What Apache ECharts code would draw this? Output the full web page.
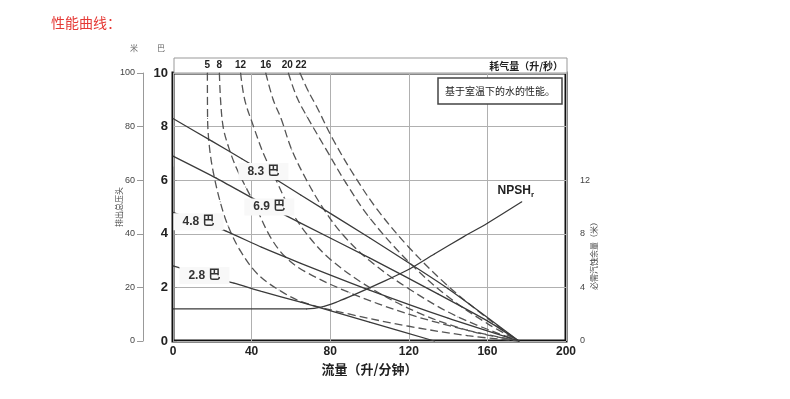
<!DOCTYPE html>
<html>
<head>
<meta charset="utf-8">
<script src="https://cdn.jsdelivr.net/npm/echarts@6/dist/echarts.min.js"></script>
<style>
  html, body { margin: 0; padding: 0; background: #fff; }
  #chart { width: 790px; height: 399px; }
</style>
</head>
<body>
<div id="chart"></div>
<script>
// flow in L/min, head in bar (NPSHr in metres)
const flowTicks = [0, 40, 80, 120, 160, 200];

const pressureNames = ['8.3 巴', '6.9 巴', '4.8 巴', '2.8 巴'];
const p83 = [[0, 8.3], [20, 7.45], [35, 6.8], [46, 6.32], [65, 5.45], [100, 3.85], [140, 1.95], [176, 0]];
const p69 = [[0, 6.9], [22, 6.08], [40, 5.35], [49, 5.0], [65, 4.4], [100, 3.1], [135, 1.75], [160, 0.75], [176, 0]];
const p48 = [[0, 4.8], [13, 4.45], [27, 4.1], [45, 3.5], [65, 2.9], [100, 1.9], [140, 0.85], [176, 0]];
const p28 = [[0, 2.8], [16, 2.44], [31, 2.16], [45, 1.85], [65, 1.45], [100, 0.7], [133, 0]];

const airNames = ['5', '8', '12', '16', '20', '22'];
const a5 = [[17.5, 10], [17.6, 8.3], [18.6, 7.2], [20.5, 6.3], [24, 5.2], [28, 4.3], [34, 3.4], [43, 2.5], [54, 1.9], [66, 1.45], [90, 1.0], [120, 0.55], [150, 0.2], [176, 0]];
const a8 = [[23.6, 10], [24.2, 9], [25.5, 8], [28, 7.3], [32, 6.5], [37, 5.75], [41.7, 5.08], [49.4, 3.9], [57, 3.15], [67, 2.6], [90, 1.8], [120, 1.0], [150, 0.4], [176, 0]];
const a12 = [[34.4, 10], [36.5, 9], [41, 8], [46, 7], [52.5, 6], [59, 5], [68, 4], [80, 3.05], [100, 2.0], [125, 1.05], [150, 0.4], [176, 0]];
const a16 = [[47.2, 10], [51, 9], [55, 8.3], [60.4, 7.14], [68, 6], [76, 5], [86, 4], [100, 3], [120, 1.95], [145, 0.9], [176, 0]];
const a20 = [[58.7, 10], [63, 9.1], [68, 8.4], [78, 7.14], [88, 5.9], [100, 4.6], [120, 2.95], [140, 1.65], [160, 0.65], [176, 0]];
const a22 = [[64.6, 10], [69, 9.3], [73, 8.76], [81.6, 7.5], [92, 6.2], [104, 4.9], [120, 3.5], [140, 2.05], [160, 0.85], [176, 0]];

const npshr = [[0, 2.4], [68, 2.4], [76, 2.55], [84, 2.95], [92, 3.44], [105, 4.3], [120.6, 5.4], [133, 6.5], [148, 7.8], [160, 8.8], [177.5, 10.4]];

const numFont = "'Liberation Sans Narrow', 'Liberation Sans', Arial, 'Noto Sans CJK SC', sans-serif";
const cjkFont = "'Noto Sans CJK SC', sans-serif";

// flow where each pressure label sits on its line
const labelFlow = [46, 49, 13, 16];
// small nudges so the crowded "20" and "22" labels don't touch
const airLabelNudge = [0, 0, 0, 0, -1, 1];

const chart = echarts.init(document.getElementById('chart'));

const pressureSeries = [p83, p69, p48, p28].map((pts, i) => ({
  type: 'line',
  name: pressureNames[i],
  xAxisIndex: 0,
  yAxisIndex: 0,
  z: 5,
  smooth: 0.2,
  symbol: 'circle',
  symbolSize: 1,
  itemStyle: { color: '#3a3a3a' },
  lineStyle: { color: '#3a3a3a', width: 1.3 },
  data: pts.map((p) => (p[0] === labelFlow[i] ? {
    value: p,
    label: {
      show: true,
      position: 'inside',
      formatter: pressureNames[i],
      fontFamily: numFont,
      fontSize: 12,
      fontWeight: 'bold',
      color: '#333',
      backgroundColor: '#f8f8f8',
      padding: [3, 9, 2, 9],
    },
  } : p)),
}));

const airSeries = [a5, a8, a12, a16, a20, a22].map((pts, i) => ({
  type: 'line',
  name: airNames[i],
  xAxisIndex: 0,
  yAxisIndex: 0,
  z: 3,
  smooth: 0.35,
  symbol: 'circle',
  symbolSize: 1,
  itemStyle: { color: '#555' },
  lineStyle: { color: '#555', width: 1.3, type: [8, 4] },
  data: pts.map((p, k) => (k === 0 ? {
    value: p,
    label: {
      show: true,
      position: 'top',
      distance: 2,
      offset: [airLabelNudge[i], 0],
      formatter: airNames[i],
      fontFamily: numFont,
      fontSize: 10,
      fontWeight: 'bold',
      color: '#222',
    },
  } : p)),
}));

const npshSeries = {
  type: 'line',
  name: 'NPSHr',
  xAxisIndex: 1,
  yAxisIndex: 2,
  z: 4,
  smooth: 0.3,
  symbol: 'circle',
  symbolSize: 1,
  itemStyle: { color: '#3a3a3a' },
  lineStyle: { color: '#3a3a3a', width: 1.3 },
  data: npshr.map((p, k) => (k === npshr.length - 1 ? {
    value: p,
    label: {
      show: true,
      position: 'top',
      distance: 3,
      offset: [-6, 0],
      formatter: '{a|NPSH}{s|r}',
      rich: {
        a: { fontFamily: numFont, fontSize: 12, fontWeight: 'bold', color: '#222' },
        s: { fontFamily: numFont, fontSize: 8, fontWeight: 'bold', color: '#222', padding: [7, 0, 0, 0] },
      },
    },
  } : p)),
};

const option = {
  animation: false,
  backgroundColor: '#fff',
  title: {
    text: '性能曲线：',
    left: 46,
    top: 11,
    textStyle: { color: '#e53935', fontSize: 14, fontWeight: 'normal', fontFamily: cjkFont },
  },
  grid: [
    { left: 173, top: 73, width: 393, height: 268, show: true, borderColor: '#111', borderWidth: 3, backgroundColor: '#fff' },
    { left: 173, top: 167, width: 393, height: 174, show: false },
  ],
  xAxis: [
    {
      gridIndex: 0,
      type: 'value',
      min: 0,
      max: 200,
      interval: 40,
      axisLine: { show: false },
      axisTick: { show: false },
      axisLabel: {
        margin: 5, fontFamily: numFont, fontSize: 12, fontWeight: 'bold', color: '#222',
        customValues: flowTicks,
      },
      splitLine: { lineStyle: { color: '#b0b0b0', width: 1 } },
      name: '流量（升/分钟）',
      nameLocation: 'middle',
      nameGap: 18,
      nameTextStyle: { fontFamily: cjkFont, fontSize: 13, fontWeight: 'bold', color: '#222' },
    },
    { gridIndex: 1, type: 'value', min: 0, max: 200, show: false },
  ],
  yAxis: [
    {
      gridIndex: 0,
      type: 'value',
      min: 0,
      max: 10,
      interval: 2,
      axisLine: { show: false },
      axisTick: { show: false },
      axisLabel: { margin: 5, fontFamily: numFont, fontSize: 13, fontWeight: 'bold', color: '#222' },
      splitLine: { lineStyle: { color: '#b0b0b0', width: 1 } },
    },
    {
      gridIndex: 0,
      type: 'value',
      position: 'left',
      offset: 30,
      min: 0,
      max: 100,
      interval: 20,
      axisLine: { show: true, lineStyle: { color: '#999', width: 1 } },
      axisTick: { show: true, length: 6, lineStyle: { color: '#999' } },
      axisLabel: { margin: 8, fontFamily: numFont, fontSize: 9, color: '#444' },
      splitLine: { show: false },
      name: '排出总压头',
      nameLocation: 'middle',
      nameGap: 20,
      nameMoveOverlap: false,
      nameRotate: 90,
      nameTextStyle: { fontFamily: cjkFont, fontSize: 8, color: '#444' },
    },
    {
      gridIndex: 1,
      type: 'value',
      position: 'right',
      offset: 8,
      min: 0,
      max: 13,
      interval: 4,
      axisLine: { show: true, lineStyle: { color: '#999', width: 1 } },
      axisTick: { show: true, length: 4, lineStyle: { color: '#999' } },
      axisLabel: { margin: 6, fontFamily: numFont, fontSize: 9, color: '#444', showMaxLabel: false },
      splitLine: { show: false },
      name: '必需汽蚀余量（米）',
      nameLocation: 'middle',
      nameGap: 16,
      nameMoveOverlap: false,
      nameRotate: 90,
      nameTextStyle: { fontFamily: cjkFont, fontSize: 8, color: '#444' },
    },
  ],
  graphic: [
    // air consumption header strip
    {
      type: 'rect',
      shape: { x: 174, y: 58, width: 393, height: 15 },
      style: { fill: '#fff', stroke: '#999', lineWidth: 1 },
      z: 0,
    },
    {
      type: 'text',
      x: 563,
      y: 66,
      style: {
        text: '耗气量（升/秒）', fontFamily: cjkFont, fontSize: 10, fontWeight: 'bold',
        fill: '#222', align: 'right', verticalAlign: 'middle',
      },
    },
    // unit marks above the two left axes
    {
      type: 'text', x: 134, y: 48,
      style: { text: '米', fontFamily: cjkFont, fontSize: 8, fill: '#666', align: 'center', verticalAlign: 'middle' },
    },
    {
      type: 'text', x: 161, y: 48,
      style: { text: '巴', fontFamily: cjkFont, fontSize: 8, fill: '#666', align: 'center', verticalAlign: 'middle' },
    },
    // note box
    {
      type: 'rect',
      shape: { x: 438, y: 78, width: 124, height: 26 },
      style: { fill: '#fff', stroke: '#444', lineWidth: 1.5 },
      z: 10,
    },
    {
      type: 'text',
      x: 500,
      y: 91,
      z: 11,
      style: {
        text: '基于室温下的水的性能。', fontFamily: cjkFont, fontSize: 10,
        fill: '#222', align: 'center', verticalAlign: 'middle',
      },
    },
  ],
  series: [...airSeries, ...pressureSeries, npshSeries],
};

chart.setOption(option);
</script>
</body>
</html>
